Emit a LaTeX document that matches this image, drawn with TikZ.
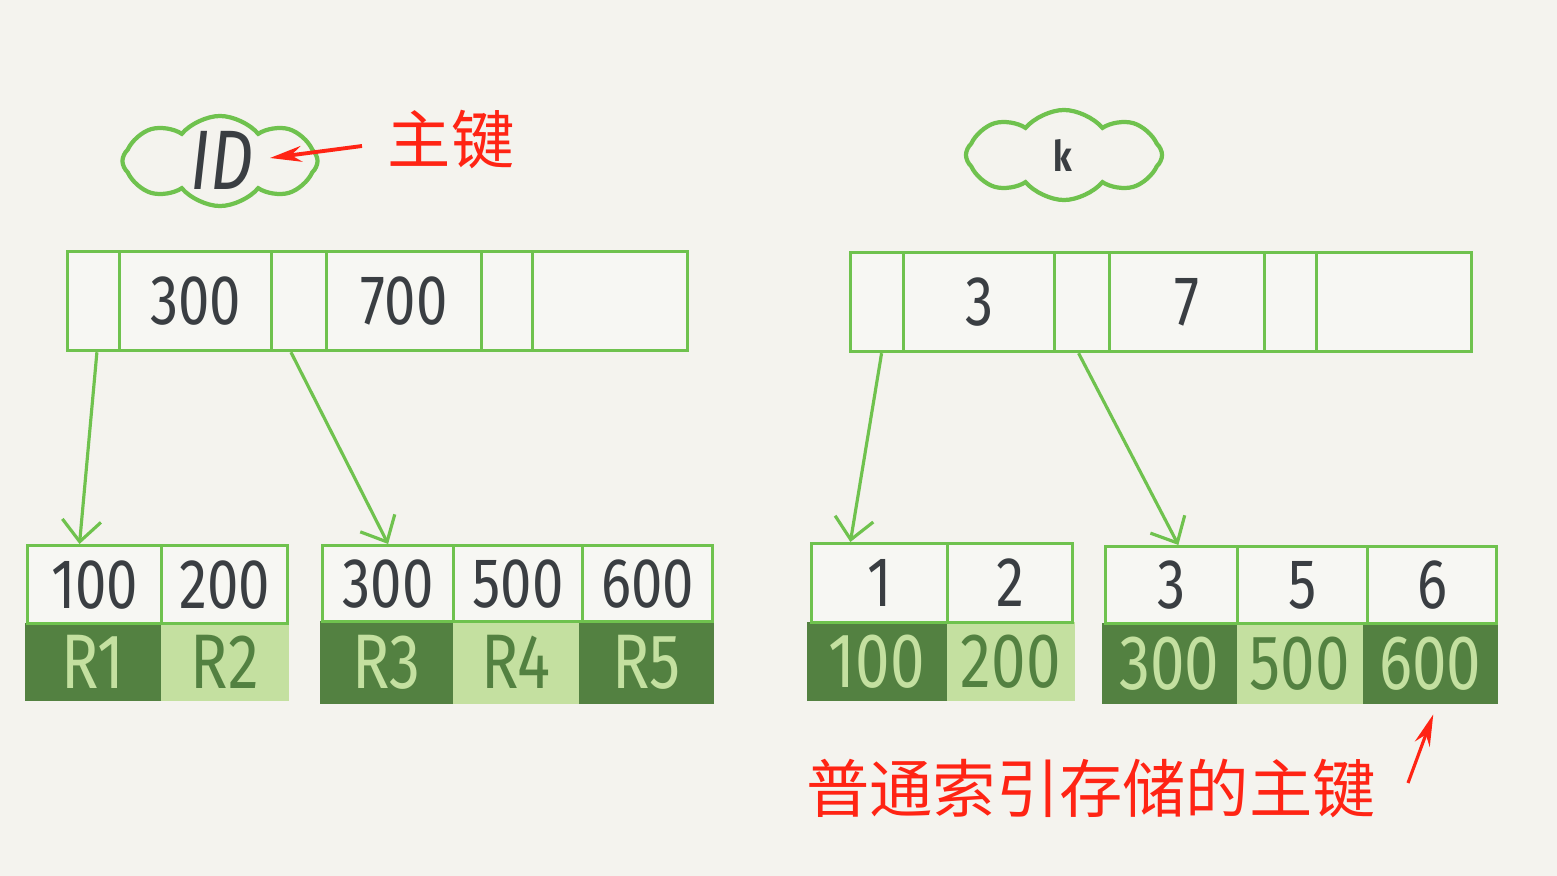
\documentclass[tikz,border=0pt]{standalone}
\usepackage{fontspec}
\usetikzlibrary{arrows.meta,shapes.symbols,calc}
\newfontfamily\cjk{Noto Sans CJK SC}
\newfontfamily\hand[FakeStretch=0.8]{Fira Sans}
\definecolor{bg}{HTML}{F4F3EE}
\definecolor{cw}{HTML}{F7F7F3}
\definecolor{lg}{HTML}{6FC24E}
\definecolor{dkg}{HTML}{538141}
\definecolor{lgt}{HTML}{C4E0A0}
\definecolor{ink}{HTML}{3A3E42}
\definecolor{rd}{HTML}{FF2414}
\tikzset{
  rootc/.style={draw=lg, line width=0.9pt, fill=cw, inner sep=0pt, anchor=north west,
    minimum height=0.99cm, text=ink, font=\hand\fontsize{20}{24}\selectfont},
  leafc/.style={draw=lg, line width=0.9pt, fill=cw, inner sep=0pt, anchor=north west,
    text=ink, font=\hand\fontsize{20}{24}\selectfont},
  darkc/.style={fill=dkg, inner sep=0pt, anchor=north west, text=lgt,
    font=\hand\fontsize{22}{26}\selectfont},
  lightc/.style={fill=lgt, inner sep=0pt, anchor=north west, text=dkg,
    font=\hand\fontsize{22}{26}\selectfont},
  link/.style={draw=lg, line width=0.9pt, -{Straight Barb[length=6pt,width=11pt,line width=0.9pt]}},
  redarr/.style={draw=rd, line width=1.1pt, -{Stealth[length=9pt,width=4.5pt]}},
  cloudc/.style={cloud, cloud puffs=8, cloud puff arc=100, aspect=2.2, draw=lg, line width=1.2pt,
    inner sep=0pt},
  redtxt/.style={text=rd, font=\cjk\fontsize{18}{22}\selectfont, inner sep=0pt},
}
\begin{document}
\begin{tikzpicture}[x=0.01cm,y=-0.01cm]
\useasboundingbox (0,0) rectangle (1557,876);
\fill[bg] (0,0) rectangle (1557,876);

% clouds
\node[cloudc, minimum width=1.95cm, minimum height=0.9cm] (idc) at (220,161) {};
\node[text=ink, font=\hand\itshape\fontsize{24}{27}\selectfont, inner sep=0pt] (idt) at (222,160) {ID};
\node[cloudc, minimum width=1.96cm, minimum height=0.9cm] (kc) at (1064,155) {};
\node[text=ink, font=\hand\bfseries\fontsize{12}{14}\selectfont, inner sep=0pt] (kt) at (1063,155) {k};

% red labels
\node[redtxt] (zj) at (451,140) {主键};
\node[redtxt] (pt) at (1091,788) {普通索引存储的主键};

% root left
\node[rootc, minimum width=0.52cm] (rA1) at (66,250) {};
\node[rootc, minimum width=1.52cm] (rA2) at (118,250) {300};
\node[rootc, minimum width=0.55cm] (rA3) at (270,250) {};
\node[rootc, minimum width=1.55cm] (rA4) at (325,250) {700};
\node[rootc, minimum width=0.51cm] (rA5) at (480,250) {};
\node[rootc, minimum width=1.55cm] (rA6) at (531,250) {};

% root right
\node[rootc, minimum width=0.53cm] (rB1) at (849,251) {};
\node[rootc, minimum width=1.51cm] (rB2) at (902,251) {3};
\node[rootc, minimum width=0.55cm] (rB3) at (1053,251) {};
\node[rootc, minimum width=1.55cm] (rB4) at (1108,251) {7};
\node[rootc, minimum width=0.52cm] (rB5) at (1263,251) {};
\node[rootc, minimum width=1.55cm] (rB6) at (1315,251) {};

% left leaf 1
\node[darkc, minimum width=1.36cm, minimum height=0.78cm] (lA1b) at (24,622) {R1};
\node[lightc, minimum width=1.28cm, minimum height=0.78cm] (lA2b) at (160,622) {R2};
\node[leafc, minimum width=1.34cm, minimum height=0.78cm] (lA1) at (26,544) {100};
\node[leafc, minimum width=1.26cm, minimum height=0.78cm] (lA2) at (160,544) {200};

% left leaf 2
\node[darkc, minimum width=1.33cm, minimum height=0.83cm] (lB1b) at (319,620) {R3};
\node[lightc, minimum width=1.26cm, minimum height=0.83cm] (lB2b) at (452,620) {R4};
\node[darkc, minimum width=1.35cm, minimum height=0.83cm] (lB3b) at (578,620) {R5};
\node[leafc, minimum width=1.31cm, minimum height=0.76cm] (lB1) at (321,544) {300};
\node[leafc, minimum width=1.29cm, minimum height=0.76cm] (lB2) at (452,544) {500};
\node[leafc, minimum width=1.30cm, minimum height=0.76cm] (lB3) at (581,544) {600};

% right leaf 1
\node[darkc, minimum width=1.40cm, minimum height=0.79cm] (rC1b) at (806,621) {100};
\node[lightc, minimum width=1.28cm, minimum height=0.79cm] (rC2b) at (946,621) {200};
\node[leafc, minimum width=1.36cm, minimum height=0.79cm] (rC1) at (810,542) {1};
\node[leafc, minimum width=1.25cm, minimum height=0.79cm] (rC2) at (946,542) {2};

% right leaf 2
\node[darkc, minimum width=1.35cm, minimum height=0.81cm] (rD1b) at (1101,622) {300};
\node[lightc, minimum width=1.26cm, minimum height=0.81cm] (rD2b) at (1236,622) {500};
\node[darkc, minimum width=1.35cm, minimum height=0.81cm] (rD3b) at (1362,622) {600};
\node[leafc, minimum width=1.32cm, minimum height=0.77cm] (rD1) at (1104,545) {3};
\node[leafc, minimum width=1.30cm, minimum height=0.77cm] (rD2) at (1236,545) {5};
\node[leafc, minimum width=1.29cm, minimum height=0.77cm] (rD3) at (1366,545) {6};

% links
\draw[link] ($(rA1.south west)!0.56!(rA1.south east)$) -- ($(lA1.north west)!0.39!(lA1.north east)$);
\draw[link] ($(rA3.south west)!0.36!(rA3.south east)$) -- (lB1.north);
\draw[link] ($(rB1.south west)!0.58!(rB1.south east)$) -- ($(rC1.north west)!0.29!(rC1.north east)$);
\draw[link] ($(rB3.south west)!0.44!(rB3.south east)$) -- ($(rD1.north west)!0.55!(rD1.north east)$);

% red arrows
\draw[redarr] ($(zj.west)+(-25,6)$) -- ($(idc.center)+(50,-3)$);
\coordinate (ann) at (1408,783);
\draw[redarr, line width=0.9pt] (ann) -- ($(rD3b.south)+(3,10)$);
\end{tikzpicture}
\end{document}
